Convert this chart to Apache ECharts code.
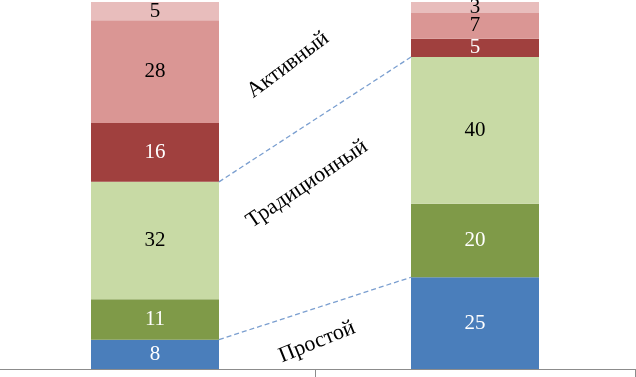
<!DOCTYPE html>
<html><head><meta charset="utf-8">
<script src="https://cdn.jsdelivr.net/npm/echarts@6/dist/echarts.min.js"></script>
<style>html,body{margin:0;padding:0;background:#fff;overflow:hidden}#c{width:644px;height:377px;margin-left:-5px}</style>
</head><body><div id="c"></div>
<script>
var categories = ['A', 'B'];
var simple1 = [8, 25];
var simple2 = [11, 20];
var traditional = [32, 40];
var active1 = [16, 5];
var active2 = [28, 7];
var active3 = [5, 3];
var groupNames = ['Простой', 'Традиционный', 'Активный'];

var colors = ['#4A7EBB', '#7F9A48', '#C8DAA5', '#A0403E', '#DA9694', '#E8BDBC'];
var labelColors = ['#ffffff', '#ffffff', '#000000', '#ffffff', '#000000', '#000000'];
var seriesData = [simple1, simple2, traditional, active1, active2, active3];

function cum(idx, upto) { var s = 0; for (var k = 0; k <= upto; k++) s += seriesData[k][idx]; return s; }
var connectors = [[0, cum(0, 0), cum(1, 0)], [0, cum(0, 2), cum(1, 2)]];
var BAR_RATIO = 0.40;

var series = seriesData.map(function (d, i) {
  return {
    type: 'bar', stack: 's', data: d, barWidth: (BAR_RATIO * 100) + '%',
    itemStyle: { color: colors[i] },
    label: { show: true, position: 'inside', color: labelColors[i], fontFamily: 'Liberation Serif', fontSize: 21 },
    silent: true
  };
});
series.push({
  type: 'custom', data: connectors, silent: true, z: 5,
  renderItem: function (params, api) {
    var p0 = api.coord([0, api.value(1)]);
    var p1 = api.coord([1, api.value(2)]);
    var hw = api.size([1, 0])[0] * BAR_RATIO / 2;
    return { type: 'line', shape: { x1: p0[0] + hw, y1: p0[1], x2: p1[0] - hw, y2: p1[1] },
      style: { stroke: '#7B9FD0', lineWidth: 1.3, lineDash: [5, 3] } };
  }
});

var chart = echarts.init(document.getElementById('c'));
chart.setOption({
  animation: false,
  grid: { left: 0, right: 4, top: 2, bottom: 8 },
  xAxis: { type: 'category', data: categories,
    axisLine: { lineStyle: { color: '#8C8C8C', width: 1 } },
    axisTick: { show: true, length: 8, lineStyle: { color: '#8C8C8C' } },
    axisLabel: { show: false } },
  yAxis: { type: 'value', min: 0, max: 100, show: false, splitLine: { show: false } },
  series: series,
  graphic: [
    { type: 'text', x: 293, y: 65, rotation: 37 * Math.PI / 180,
      style: { text: groupNames[2], font: '22px "Liberation Serif"', fill: '#000', textAlign: 'center', textVerticalAlign: 'middle' } },
    { type: 'text', x: 312, y: 184, rotation: 34 * Math.PI / 180,
      style: { text: groupNames[1], font: '22px "Liberation Serif"', fill: '#000', textAlign: 'center', textVerticalAlign: 'middle' } },
    { type: 'text', x: 322, y: 342, rotation: 22 * Math.PI / 180,
      style: { text: groupNames[0], font: '22px "Liberation Serif"', fill: '#000', textAlign: 'center', textVerticalAlign: 'middle' } }
  ]
});
</script></body></html>
